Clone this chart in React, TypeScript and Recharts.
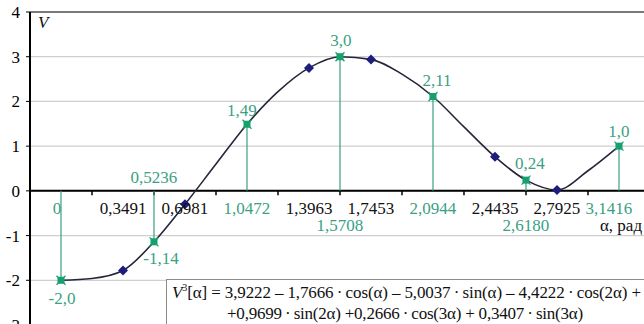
import React from "react";
import {
  ComposedChart,
  Line,
  Scatter,
  XAxis,
  YAxis,
  CartesianGrid,
  ReferenceLine,
  ReferenceDot,
} from "recharts";

// curve V(α), read every 10° off the picture
const curveAlpha = [
  0, 0.1745, 0.3491, 0.5236, 0.6981, 0.8727, 1.0472, 1.2217, 1.3963, 1.5708,
  1.7453, 1.9199, 2.0944, 2.2689, 2.4435, 2.618, 2.7925, 2.967, 3.1416,
];
const curveV = [
  -2.0, -1.96, -1.78, -1.14, -0.3, 0.6, 1.49, 2.22, 2.75, 3.0, 2.94, 2.61, 2.11,
  1.43, 0.76, 0.24, 0.02, 0.45, 1.0,
];

// green points (every 30°)
const keyAlpha = [0, 0.5236, 1.0472, 1.5708, 2.0944, 2.618, 3.1416];
const keyV = [-2.0, -1.14, 1.49, 3.0, 2.11, 0.24, 1.0];
const keyVText = ["-2,0", "-1,14", "1,49", "3,0", "2,11", "0,24", "1,0"];
const keyAlphaText = ["0", "0,5236", "1,0472", "1,5708", "2,0944", "2,6180", "3,1416"];

// navy points in between
const midAlpha = [0.3491, 0.6981, 1.3963, 1.7453, 2.4435, 2.7925];
const midV = [-1.78, -0.3, 2.75, 2.94, 0.76, 0.02];
const midAlphaText = ["0,3491", "0,6981", "1,3963", "1,7453", "2,4435", "2,7925"];

const yTicks = [-3, -2, -1, 0, 1, 2, 3, 4];
const xTickMarks = [0.1745, 0.5236, 0.8727, 1.2217, 1.5708, 1.9199, 2.2689, 2.618, 2.967, 3.3161];

// label placement: [dx, dy] for value labels, row for the α labels
const keyVOffset = [
  [1, 18],
  [7, 17],
  [-5, -14],
  [1, -16],
  [4, -16],
  [4, -17],
  [0, -15],
];
const keyAlphaRow = [1, 0, 1, 2, 1, 2, 1];
const keyAlphaDx = [-4, 0, 0, 0, 0, 0, -10];

const curveData = curveAlpha.map((a, i) => ({ a, v: curveV[i] }));
const keyData = keyAlpha.map((a, i) => ({ a, v: keyV[i] }));
const midData = midAlpha.map((a, i) => ({ a, v: midV[i] }));

const FONT = "'Liberation Serif', 'Times New Roman', serif";
const GREEN = "#17a06f";
const GREEN_TEXT = "#3b9f84";
const NAVY = "#1d1d7c";
const rowDy = [-13, 18, 35];
const T = "\u2009"; // thin space

function textLabel(text: string, dx: number, dy: number, fill: string) {
  return (props: any) => {
    const vb = props.viewBox || {};
    const cx = vb.x + (vb.width || 0) / 2;
    const cy = vb.y + (vb.height || 0) / 2;
    return (
      <text
        x={cx + dx}
        y={cy + dy}
        textAnchor="middle"
        dominantBaseline="central"
        fill={fill}
        fontFamily={FONT}
        fontSize={17}
      >
        {text}
      </text>
    );
  };
}

const GreenMark = (props: any) => {
  const { cx, cy } = props;
  return (
    <g>
      <rect x={cx - 3.5} y={cy - 3.5} width={7} height={7} fill={GREEN} />
      <path
        d={`M${cx - 4.5},${cy - 4.5}L${cx + 4.5},${cy + 4.5}M${cx + 4.5},${cy - 4.5}L${cx - 4.5},${cy + 4.5}`}
        stroke={GREEN}
        strokeWidth={1.2}
      />
    </g>
  );
};

const NavyMark = (props: any) => {
  const { cx, cy } = props;
  return (
    <polygon
      points={`${cx},${cy - 5} ${cx + 5},${cy} ${cx},${cy + 5} ${cx - 5},${cy}`}
      fill={NAVY}
    />
  );
};

export default function App() {
  return (
    <div
      style={{
        position: "absolute",
        left: 0,
        top: 0,
        width: 644,
        height: 324,
        overflow: "hidden",
        background: "#fff",
      }}
    >
      <ComposedChart
        width={690}
        height={340}
        margin={{ top: 12, right: 9, bottom: 15, left: 0 }}
      >
        <CartesianGrid vertical={false} stroke="#cfcfcf" strokeWidth={1.2} />
        <XAxis
          type="number"
          dataKey="a"
          domain={[-0.1745, 3.4907]}
          allowDataOverflow
          hide
        />
        <YAxis
          type="number"
          domain={[-3, 4]}
          ticks={yTicks}
          interval={0}
          width={30}
          tickSize={4}
          tickMargin={6}
          axisLine={{ stroke: "#000", strokeWidth: 2 }}
          tickLine={{ stroke: "#000" }}
          tick={{ fill: "#000", fontFamily: FONT, fontSize: 17 }}
        />
        <ReferenceLine y={4} stroke="#7a7a7a" strokeWidth={2} />
        <ReferenceLine y={0} stroke="#000" strokeWidth={2} />
        {xTickMarks.map((t) => (
          <ReferenceLine
            key={`t${t}`}
            segment={[
              { x: t, y: 0 },
              { x: t, y: -0.1 },
            ]}
            stroke="#000"
            strokeWidth={1.5}
            ifOverflow="hidden"
          />
        ))}
        {keyData.map((d) => (
          <ReferenceLine
            key={`d${d.a}`}
            segment={[
              { x: d.a, y: 0 },
              { x: d.a, y: d.v },
            ]}
            stroke={GREEN_TEXT}
            strokeWidth={1.2}
          />
        ))}
        <Line
          data={curveData}
          dataKey="v"
          type="monotone"
          stroke="#26263a"
          strokeWidth={1.6}
          dot={false}
          isAnimationActive={false}
        />
        <Scatter
          data={midData}
          dataKey="v"
          shape={NavyMark}
          isAnimationActive={false}
        />
        <Scatter
          data={keyData}
          dataKey="v"
          shape={GreenMark}
          isAnimationActive={false}
        />
        {keyData.map((d, i) => (
          <ReferenceDot
            key={`kv${i}`}
            x={d.a}
            y={d.v}
            r={1}
            fill="none"
            stroke="none"
            label={textLabel(keyVText[i], keyVOffset[i][0], keyVOffset[i][1], GREEN_TEXT)}
          />
        ))}
        {keyAlpha.map((a, i) => (
          <ReferenceDot
            key={`ka${i}`}
            x={a}
            y={0}
            r={1}
            fill="none"
            stroke="none"
            label={textLabel(keyAlphaText[i], keyAlphaDx[i], rowDy[keyAlphaRow[i]], GREEN_TEXT)}
          />
        ))}
        {midAlpha.map((a, i) => (
          <ReferenceDot
            key={`ma${i}`}
            x={a}
            y={0}
            r={1}
            fill="none"
            stroke="none"
            label={textLabel(midAlphaText[i], 0, rowDy[1], "#111")}
          />
        ))}
        <ReferenceDot
          x={3.1416}
          y={0}
          r={1}
          fill="none"
          stroke="none"
          label={textLabel("α, рад", 2, rowDy[2], "#111")}
        />
      </ComposedChart>

      <div
        style={{
          position: "absolute",
          left: 38,
          top: 13,
          fontFamily: FONT,
          fontStyle: "italic",
          fontSize: 17,
          color: "#111",
        }}
      >
        V
      </div>

      <div
        style={{
          position: "absolute",
          left: 166,
          top: 279,
          width: 520,
          height: 60,
          border: "1px solid #8c8c8c",
          background: "#fff",
          fontFamily: FONT,
          fontSize: 17,
          color: "#111",
          lineHeight: "21px",
          whiteSpace: "nowrap",
          boxSizing: "border-box",
          paddingTop: 2,
        }}
      >
        <div style={{ paddingLeft: 5, letterSpacing: -0.12 }}>
          <i>V</i>
          <sup style={{ fontSize: 10, lineHeight: 0 }}>3</sup>[α] = 3,9222 – 1,7666{T}·{T}cos(α) – 5,0037{T}·{T}sin(α) – 4,4222{T}·{T}cos(2α) +
        </div>
        <div style={{ paddingLeft: 60, letterSpacing: -0.22 }}>
          +0,9699{T}·{T}sin(2α) +0,2666{T}·{T}cos(3α) + 0,3407{T}·{T}sin(3α)
        </div>
      </div>
    </div>
  );
}
